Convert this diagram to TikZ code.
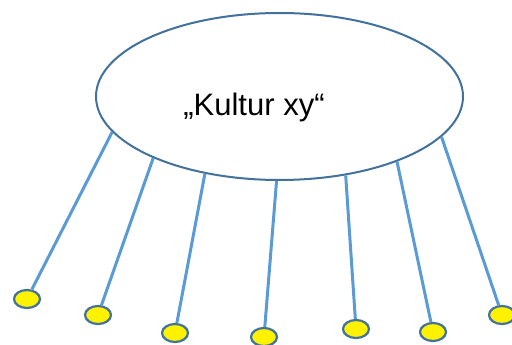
\documentclass[tikz,border=0pt]{standalone}
\usepackage{fontspec}
\setmainfont{Liberation Sans}
\usetikzlibrary{shapes.geometric}

\definecolor{rand}{HTML}{41719C}
\definecolor{linie}{HTML}{5B9BD5}

\tikzset{
  kultur/.style={draw=rand,line width=2pt,fill=white,ellipse,inner sep=0pt,
    minimum width=367pt,minimum height=167pt},
  punkt/.style={draw=rand,line width=2.2pt,fill=yellow,ellipse,inner sep=0pt,
    minimum width=26pt,minimum height=18pt},
  strahl/.style={draw=linie,line width=3pt}
}

\begin{document}
\begin{tikzpicture}[x=1pt,y=-1pt]
        \useasboundingbox (0,0) rectangle (512,345);

        \node[kultur] (kern) at (279.5,96.5) {};
        \node[font=\fontsize{31}{37}\selectfont] (titel) at (254,107) {„Kultur xy“};

        % Strahlen mit Punkten
        \foreach \w/\x/\y [count=\i] in {192/27/299,206/98/315,226/175/333,268/264/337,
                                         310/356/329,331/433/332,346/502/315} {
          \node[punkt] (p\i) at (\x,\y) {};
          \draw[strahl] (kern.\w) -- (p\i);
        }
      \end{tikzpicture}
\end{document}
